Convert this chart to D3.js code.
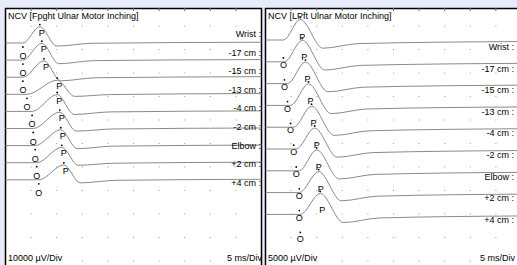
<!DOCTYPE html>
<html>
<head>
<meta charset="utf-8">
<style>
  body, html { margin: 0px; background: #e8ebf9; }
  svg { display: block; }
  text { font-family: "Liberation Sans", Arial, sans-serif; font-size: 9px; fill: #000; }
</style>
<script src="https://cdn.jsdelivr.net/npm/d3@7"></script>
</head>
<body>
<svg id="chart" width="517" height="265"></svg>
<script>
// site labels (same for both sides)
var sites = ['Wrist', '-17 cm', '-15 cm', '-13 cm', '-4 cm', '-2 cm', 'Elbow', '+2 cm', '+4 cm'];

// first panel values, ms and mV
var fOnset    = [3.4, 3.4, 3.4, 4.2, 5.2, 5.4, 5.8, 6.1, 6.5];
var fPeakT    = [6.7, 7.1, 7.5, 10.1, 10.1, 10.6, 10.8, 11.0, 11.4];
var fPeakAmp  = [6.4, 6.6, 6.4, 5.5, 6.6, 6.4, 6.2, 6.0, 5.8];
var fTroughT  = [10.0, 10.4, 10.8, 13.5, 13.4, 13.8, 14.0, 14.2, 14.6];
var fTroughAmp= [-1.2, -1.4, -1.4, -0.8, -1.2, -1.0, -1.2, -1.0, -1.2];
var fEndAmp   = [0.3, 0.2, 0.2, 0.3, 0.2, 0.2, 0.2, 0.2, 0.2];

// second panel values, ms and mV
var lOnset    = [3.5, 3.7, 4.3, 4.9, 5.5, 6.0, 6.6, 6.6, 6.8];
var lPeakT    = [6.8, 7.2, 7.8, 8.4, 9.0, 9.6, 10.0, 10.4, 10.7];
var lPeakAmp  = [4.0, 4.2, 4.2, 4.2, 4.1, 4.1, 4.1, 4.1, 4.1];
var lTroughT  = [11.2, 11.6, 12.2, 12.8, 13.4, 14.0, 14.4, 14.8, 15.2];
var lTroughAmp= [-1.6, -1.6, -1.6, -1.6, -1.6, -1.6, -1.6, -1.6, -1.6];
var lEndAmp   = [-0.3, -0.3, -0.3, -0.3, -0.3, -0.3, -0.3, -0.3, -0.3];

var panels = [
  { title: 'NCV [Fpght Ulnar Motor Inching]', sens: '10000 \u00b5V/Div', uvDiv: 10,
    onset: fOnset, peakT: fPeakT, peakAmp: fPeakAmp, troughT: fTroughT, troughAmp: fTroughAmp, endAmp: fEndAmp,
    x0: 5, firstBase: 43, step: 17.1, labelY: 37, labelStep: 18.6, oDy: 16, oDot: 4, pDy: 9, rightText: 256 },
  { title: 'NCV [LPft Ulnar Motor Inching]', sens: '5000 \u00b5V/Div', uvDiv: 5,
    onset: lOnset, peakT: lPeakT, peakAmp: lPeakAmp, troughT: lTroughT, troughAmp: lTroughAmp, endAmp: lEndAmp,
    x0: 265, firstBase: 40, step: 21.8, labelY: 50, labelStep: 21.6, oDy: 28, oDot: 18, pDy: 20, rightText: 249 }
];

var svg = d3.select('#chart');
var panelTop = 8, W = 256, H = 262, div = 25.6;

panels.forEach(function(p) {
  var g = svg.append('g').attr('transform', 'translate(' + p.x0 + ',' + panelTop + ')');

  g.append('rect').attr('x', 0.5).attr('y', 0.5).attr('width', W).attr('height', H)
    .attr('fill', '#fff').attr('stroke', '#000').attr('stroke-width', 1.5);

  var x = d3.scaleLinear().domain([0, 50]).range([0.5, W + 0.5]);
  // mV -> px, one division = p.uvDiv mV
  var y = d3.scaleLinear().domain([0, p.uvDiv]).range([0, -div]);

  // dotted grid
  var cols = d3.range(1, 10), rows = d3.range(0, 11);
  cols.forEach(function(c) {
    rows.forEach(function(r) {
      g.append('rect').attr('x', x(c * 5) - 0.5).attr('y', 18 + r * 23.5 - 0.5)
        .attr('width', 1).attr('height', 1).attr('fill', '#999');
    });
    g.append('line').attr('x1', x(c * 5)).attr('x2', x(c * 5)).attr('y1', 0).attr('y2', 3)
      .attr('stroke', '#666');
  });

  g.append('text').attr('x', 3).attr('y', 11).text(p.title);
  g.append('text').attr('x', 3).attr('y', 253).text(p.sens);
  g.append('text').attr('x', p.rightText + 1).attr('y', 253).attr('text-anchor', 'end').text('5 ms/Div');

  var line = d3.line().x(function(d) { return x(d[0]); }).y(function(d) { return y(d[1]); })
    .curve(d3.curveMonotoneX);

  sites.forEach(function(s, i) {
    var base = p.firstBase + i * p.step - panelTop;
    var pts = [[0, 0], [p.onset[i], 0], [p.peakT[i], p.peakAmp[i]],
               [p.troughT[i], p.troughAmp[i]], [p.troughT[i] + 7, p.endAmp[i] - 0.4], [50, p.endAmp[i]]];
    var t = g.append('g').attr('transform', 'translate(0,' + base + ')');
    t.append('path').attr('d', line(pts)).attr('fill', 'none').attr('stroke', '#8a8a8a').attr('stroke-width', 1);

    // onset marker
    t.append('circle').attr('cx', x(p.onset[i])).attr('cy', p.oDot).attr('r', 0.9).attr('fill', '#000');
    t.append('text').attr('x', x(p.onset[i])).attr('y', p.oDy).attr('text-anchor', 'middle').text('O');
    // peak marker
    t.append('circle').attr('cx', x(p.peakT[i])).attr('cy', y(p.peakAmp[i]) - 2).attr('r', 0.9).attr('fill', '#000');
    t.append('text').attr('x', x(p.peakT[i]) + 2).attr('y', y(p.peakAmp[i]) + p.pDy).attr('text-anchor', 'middle').text('P');

    g.append('text').attr('x', p.rightText).attr('y', p.labelY + i * p.labelStep - panelTop)
      .attr('text-anchor', 'end').text(s + ' :');
  });
});
</script>
</body>
</html>
